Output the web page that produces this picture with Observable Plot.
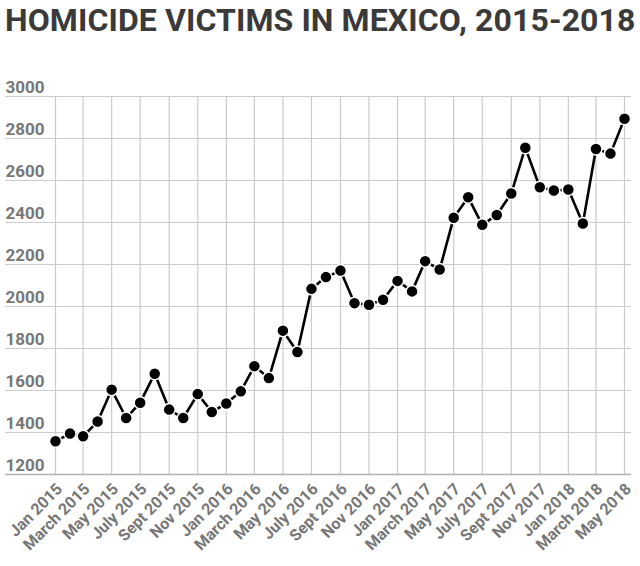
<!DOCTYPE html>
<html>
<head>
<meta charset="utf-8">
<script src="https://cdn.jsdelivr.net/npm/d3@7"></script>
<script src="https://cdn.jsdelivr.net/npm/@observablehq/plot@0.6"></script>
<style>
  html, body { margin: 0; padding: 0; background: #fff; }
  #title { font-family: Roboto, sans-serif; font-weight: 700; font-size: 32px; color: #3a3a3a;
           height: 40px; line-height: 40px; padding-left: 5px; white-space: nowrap; letter-spacing: 0.1px; }
  #chart svg { display: block; }
</style>
</head>
<body>
<div id="title">HOMICIDE VICTIMS IN MEXICO, 2015-2018</div>
<div id="chart"></div>
<script>
const months = [
  "2015-01","2015-02","2015-03","2015-04","2015-05","2015-06","2015-07","2015-08","2015-09","2015-10","2015-11","2015-12",
  "2016-01","2016-02","2016-03","2016-04","2016-05","2016-06","2016-07","2016-08","2016-09","2016-10","2016-11","2016-12",
  "2017-01","2017-02","2017-03","2017-04","2017-05","2017-06","2017-07","2017-08","2017-09","2017-10","2017-11","2017-12",
  "2018-01","2018-02","2018-03","2018-04","2018-05"
];
const victims = [
  1358, 1395, 1382, 1452, 1604, 1469, 1542, 1680, 1509, 1469, 1583, 1498,
  1538, 1596, 1716, 1659, 1885, 1783, 2084, 2140, 2171, 2016, 2008, 2032,
  2122, 2072, 2216, 2176, 2423, 2520, 2389, 2436, 2538, 2756, 2568, 2552,
  2557, 2395, 2750, 2728, 2894
];
const tickMonths = ["2015-01","2015-03","2015-05","2015-07","2015-09","2015-11",
  "2016-01","2016-03","2016-05","2016-07","2016-09","2016-11",
  "2017-01","2017-03","2017-05","2017-07","2017-09","2017-11",
  "2018-01","2018-03","2018-05"];
const tickLabels = ["Jan 2015","March 2015","May 2015","July 2015","Sept 2015","Nov 2015",
  "Jan 2016","March 2016","May 2016","July 2016","Sept 2016","Nov 2016",
  "Jan 2017","March 2017","May 2017","July 2017","Sept 2017","Nov 2017",
  "Jan 2018","March 2018","May 2018"];
const yTicks = [1200, 1400, 1600, 1800, 2000, 2200, 2400, 2600, 2800, 3000];

const parse = d3.utcParse("%Y-%m");
const data = months.map((m, i) => ({date: parse(m), value: victims[i]}));
const ticks = tickMonths.map((m, i) => ({date: parse(m), label: tickLabels[i]}));

const font = "Roboto, sans-serif";
const plot = Plot.plot({
  width: 640,
  height: 526,
  marginLeft: 55,
  marginRight: 16,
  marginTop: 56,
  marginBottom: 92,
  style: {fontFamily: font, background: "#fff"},
  x: {type: "utc", domain: [parse(months[0]), parse(months[months.length - 1])], axis: null},
  y: {domain: [1200, 3000], axis: null},
  marks: [
    Plot.ruleY(yTicks.filter(d => d > 1200), {y: d => d, stroke: "#cbcbcb", strokeWidth: 1.2, insetLeft: -50, insetRight: -7}),
    Plot.ruleX(ticks, {x: "date", y1: 1200, y2: 3000, stroke: "#cbcbcb", strokeWidth: 1.2}),
    Plot.ruleY([1200], {stroke: "#b0b0b0", strokeWidth: 1.4, insetLeft: -50, insetRight: -7}),
    Plot.text(yTicks, {y: d => d, text: d => String(d), frameAnchor: "left", textAnchor: "start",
      dx: -50, dy: -4, lineAnchor: "bottom", fill: "#777", fontSize: 17, fontWeight: 700}),
    Plot.text(ticks, {x: "date", text: "label", frameAnchor: "bottom", textAnchor: "end", lineAnchor: "middle",
      rotate: -45, dx: 4, dy: 12, fill: "#777", fontSize: 16, fontWeight: 700}),
    Plot.line(data, {x: "date", y: "value", stroke: "#000", strokeWidth: 2.6}),
    Plot.dot(data, {x: "date", y: "value", r: 6, fill: "#000", stroke: "#fff", strokeWidth: 1.5})
  ]
});
document.getElementById("chart").appendChild(plot);
</script>
</body>
</html>
